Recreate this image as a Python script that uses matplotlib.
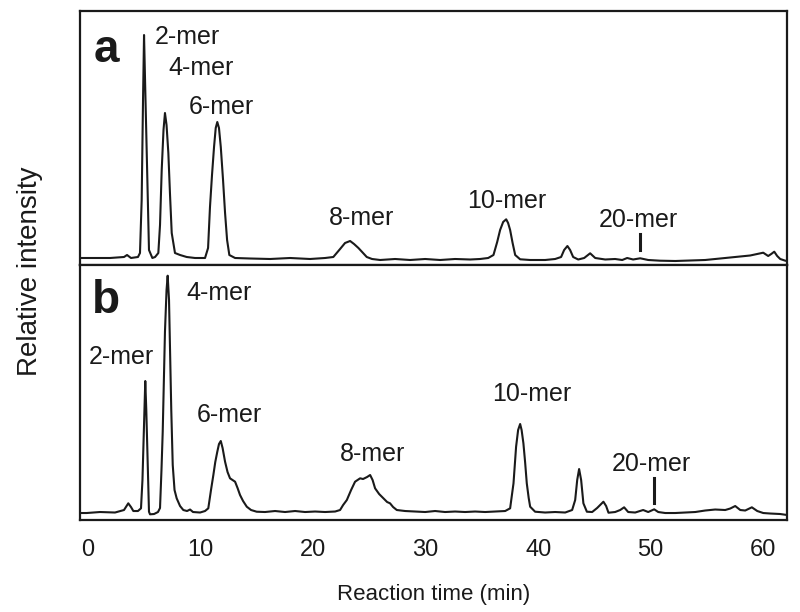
import matplotlib.pyplot as plt

# chromatogram traces (time in min, intensity in arbitrary units)
time_a = [-0.71, 1.96, 3.2, 3.47, 3.82, 4.44, 4.62, 4.77, 4.89, 4.98, 5.07, 5.22, 5.42, 5.72,
          5.96, 6.25, 6.4, 6.55, 6.71, 6.84, 6.98, 7.14, 7.29, 7.44, 7.73, 8.18, 8.77, 9.51,
          10.4, 10.67, 10.84, 11.02, 11.2, 11.35, 11.49, 11.64, 11.8, 12.0, 12.18, 12.36, 12.56,
          13.07, 14.4, 16.18, 17.96, 19.73, 21.07, 21.8, 22.4, 22.84, 23.29, 23.64, 24.03, 24.36,
          24.77, 25.24, 25.96, 27.29, 28.62, 29.96, 31.29, 32.62, 33.96, 34.84, 35.56, 36.03,
          36.36, 36.62, 36.89, 37.16, 37.33, 37.51, 37.73, 37.96, 38.4, 39.29, 40.62, 41.51,
          42.04, 42.31, 42.6, 42.84, 43.11, 43.56, 44.09, 44.62, 45.07, 45.96, 46.84, 47.47,
          47.91, 48.44, 49.07, 49.78, 50.84, 52.18, 53.51, 54.84, 56.18, 57.51, 58.84, 60.0,
          60.44, 60.71, 60.98, 61.24, 61.51, 61.96, 62.13]
inten_a = [7, 7, 8, 10, 7, 8, 12, 65, 165, 230, 185, 112, 15, 7,
           8, 12, 40, 95, 135, 152, 140, 112, 70, 32, 12, 10, 8, 7,
           7, 17, 58, 90, 118, 137, 143, 137, 118, 85, 52, 25, 10,
           7, 6.5, 6, 7, 6, 7, 8, 16, 22, 24, 21, 17, 13,
           8, 6, 5, 6, 5, 6, 5, 6, 5.5, 6, 7, 10,
           23, 35, 43, 45.7, 42, 35, 22, 10, 5.7, 5, 5, 6,
           8, 15, 19, 15, 8, 5.5, 7, 11.7, 7, 5.5, 6, 5,
           7, 5.5, 6.7, 5, 4.3, 4, 4.5, 5, 6.5, 8, 9.5, 12.3,
           9, 11, 13.3, 9, 6, 4.3, 4]

time_b = [-0.71, -0.12, 1.07, 2.4, 3.2, 3.58, 3.82, 4.03, 4.44, 4.71, 4.84, 4.92, 5.02, 5.09,
          5.18, 5.27, 5.36, 5.42, 5.51, 5.87, 6.22, 6.4, 6.53, 6.64, 6.84, 6.98, 7.08, 7.2,
          7.29, 7.4, 7.53, 7.69, 7.88, 8.18, 8.47, 8.8, 9.07, 9.33, 9.96, 10.4, 10.69, 10.93,
          11.14, 11.31, 11.49, 11.64, 11.8, 11.96, 12.18, 12.4, 12.62, 12.84, 13.07, 13.29,
          13.51, 13.78, 14.11, 14.49, 14.99, 15.73, 16.62, 17.51, 18.4, 19.29, 20.18, 21.07,
          21.96, 22.4, 22.67, 23.0, 23.38, 23.73, 24.18, 24.44, 24.8, 25.07, 25.29, 25.51,
          25.87, 26.25, 26.58, 26.84, 27.11, 27.44, 28.18, 29.07, 29.96, 30.84, 31.73, 32.62,
          33.51, 34.4, 35.29, 36.18, 37.07, 37.51, 37.81, 38.04, 38.22, 38.4, 38.53, 38.69,
          38.84, 38.99, 39.16, 39.29, 39.73, 40.62, 41.51, 42.4, 43.02, 43.29, 43.47, 43.64,
          43.82, 44.02, 44.33, 44.8, 45.24, 45.8, 46.04, 46.25, 46.84, 47.29, 47.64, 48.0,
          48.62, 49.33, 49.78, 50.31, 50.67, 51.29, 52.18, 53.07, 53.96, 54.84, 55.73, 56.62,
          57.07, 57.51, 57.96, 58.4, 58.99, 59.47, 60.0, 60.62, 61.51, 62.13]
inten_b = [7, 7, 8, 7.5, 10, 16.7, 13, 9, 9, 11.7, 40, 72, 110, 139,
           110, 72, 30, 8.3, 5.7, 6, 8, 12, 50, 88.3, 188.3, 230, 244.3, 220,
           172, 110, 55, 30, 21.7, 14, 10, 9, 10.5, 8, 7.5, 9, 11.7, 30,
           45, 58, 68.3, 76, 79, 72, 58.3, 48, 41.7, 40, 38.3, 32,
           25, 19, 13.3, 10, 8.3, 8, 9, 8, 9, 8, 8.5, 8,
           8.5, 10, 15, 20, 30, 38.3, 41.7, 41, 43, 45, 40, 31.7,
           26, 21.7, 18, 16.7, 13, 10, 9, 8.5, 8, 9, 8, 8.5,
           8, 8.5, 8, 8.5, 9, 11.7, 36.7, 73.3, 90, 96, 90, 76.7,
           58, 36.7, 22, 13.3, 8.3, 7.5, 8, 7.5, 10, 20, 40, 51,
           40, 16.7, 8.3, 8, 12, 18.3, 14, 7.3, 8, 10, 12.7, 8,
           7.5, 10, 8, 10.7, 8, 7, 7, 7.5, 8, 9.5, 10.5, 10,
           11.5, 14, 10, 9.5, 12.7, 9, 7, 6.5, 6, 5]

# peak labels: text, x, y
labels_a = [("2-mer", 8.84, 228.5), ("4-mer", 10.04, 197.5), ("6-mer", 11.82, 158.5),
            ("8-mer", 24.31, 46.5), ("10-mer", 37.2, 64), ("20-mer", 48.93, 45)]
labels_b = [("2-mer", 2.93, 163.5), ("4-mer", 11.64, 226.5), ("6-mer", 12.53, 105),
            ("8-mer", 25.29, 66.5), ("10-mer", 39.42, 126), ("20-mer", 50.09, 56.5)]
marker_a = (49.07, 15, 31)
marker_b = (50.25, 17, 42)

xticks = [0, 10, 20, 30, 40, 50, 60]

plt.rcParams['font.family'] = ['Liberation Sans', 'DejaVu Sans']

fig = plt.figure(figsize=(8, 6.12), dpi=100)
ax_a = fig.add_axes([0.1, 0.567, 0.884, 0.415])
ax_b = fig.add_axes([0.1, 0.1503, 0.884, 0.4167])

panels = [(ax_a, time_a, inten_a, labels_a, marker_a, "a", 215, 254),
          (ax_b, time_b, inten_b, labels_b, marker_b, "b", 219, 255)]
for ax, t, y, labs, mk, letter, ly, ytop in panels:
    ax.plot(t, y, color='#1a1a1a', lw=1.5)
    ax.set_xlim(-0.71, 62.13)
    ax.set_ylim(0, ytop)
    ax.set_yticks([])
    for s in ax.spines.values():
        s.set_linewidth(1.6)
        s.set_color('#1a1a1a')
    for txt, x, yy in labs:
        ax.text(x, yy, txt, ha='center', va='center', fontsize=18, color='#1a1a1a')
    ax.plot([mk[0], mk[0]], [mk[1], mk[2]], color='#1a1a1a', lw=2.2)
    ax.text(1.6, ly, letter, ha='center', va='center', fontsize=33,
            fontweight='bold', color='#1a1a1a')

ax_a.set_xticks([])
ax_b.set_xticks(xticks)
ax_b.tick_params(axis='x', length=0, pad=14, labelsize=17, labelcolor='#1a1a1a')
ax_b.set_xlabel("Reaction time (min)", fontsize=16, labelpad=16, color='#1a1a1a')
fig.text(0.038, 0.557, "Relative intensity", rotation=90, ha='center', va='center',
         fontsize=20, color='#1a1a1a')

fig.savefig("out.png", dpi=100)
